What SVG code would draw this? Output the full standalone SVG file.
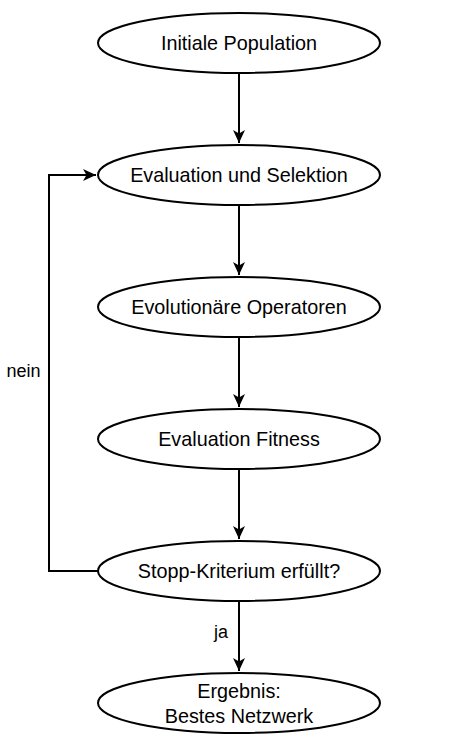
<svg xmlns="http://www.w3.org/2000/svg" width="453" height="743" viewBox="0 0 453 743">
<style>
.n{fill:#fff;stroke:#000;stroke-width:2}
.t{font-family:"Liberation Sans",Arial,sans-serif;font-size:19.8px;fill:#000;text-anchor:middle}
.l{font-family:"Liberation Sans",Arial,sans-serif;font-size:18px;fill:#000}
.c{fill:none;stroke:#000;stroke-width:2}
</style>
<defs>
<marker id="a" markerUnits="userSpaceOnUse" markerWidth="14" markerHeight="14" viewBox="0 0 14 14" refX="13" refY="7" orient="auto">
<path d="M0,1 L13,7 L0,13 L3.5,7 Z" fill="#000"/>
</marker>
</defs>
<rect width="453" height="743" fill="#fff"/>
<g id="connectors">
<path class="c" d="M239,73 V143" marker-end="url(#a)"/>
<path class="c" d="M239,205 V275" marker-end="url(#a)"/>
<path class="c" d="M239,337 V407" marker-end="url(#a)"/>
<path class="c" d="M239,469 V539" marker-end="url(#a)"/>
<path class="c" d="M239,601 V671" marker-end="url(#a)"/>
<path class="c" d="M98,571 H49 V175 H96" marker-end="url(#a)"/>
<text class="l" x="6.5" y="377">nein</text>
<text class="l" x="214" y="638">ja</text>
</g>
<g id="n1"><ellipse class="n" cx="239" cy="43" rx="141" ry="30"/><text class="t" x="239" y="50">Initiale Population</text></g>
<g id="n2"><ellipse class="n" cx="239" cy="175" rx="141" ry="30"/><text class="t" x="239" y="182">Evaluation und Selektion</text></g>
<g id="n3"><ellipse class="n" cx="239" cy="307" rx="141" ry="30"/><text class="t" x="239" y="314">Evolutionäre Operatoren</text></g>
<g id="n4"><ellipse class="n" cx="239" cy="439" rx="141" ry="30"/><text class="t" x="239" y="446">Evaluation Fitness</text></g>
<g id="n5"><ellipse class="n" cx="239" cy="571" rx="141" ry="30"/><text class="t" x="239" y="578">Stopp-Kriterium erfüllt?</text></g>
<g id="n6"><ellipse class="n" cx="239" cy="703" rx="141" ry="30"/><text class="t" x="239" y="698">Ergebnis:</text><text class="t" x="239" y="723">Bestes Netzwerk</text></g>
</svg>
